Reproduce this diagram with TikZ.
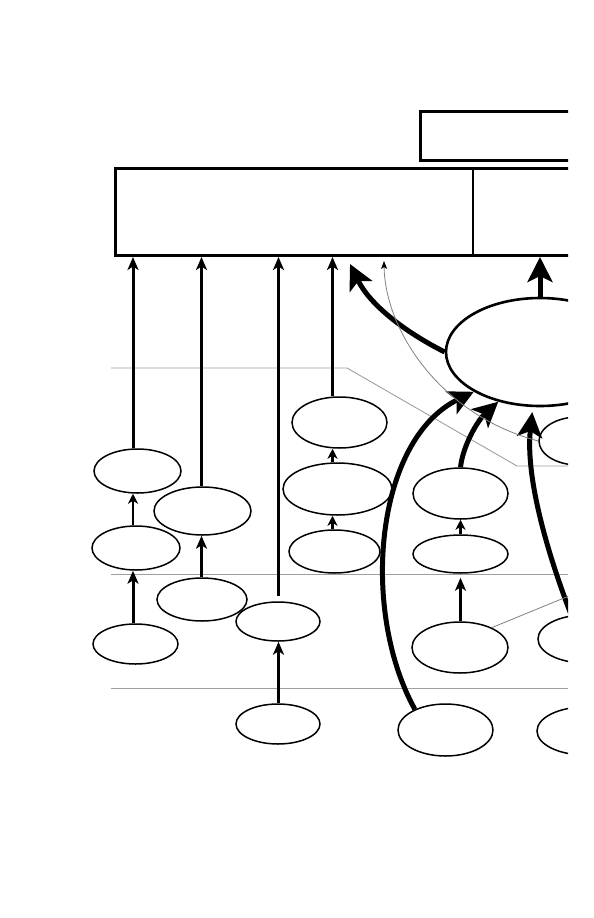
\documentclass[tikz,border=0pt]{standalone}
\usetikzlibrary{shapes.geometric,arrows.meta}
\begin{document}
\begin{tikzpicture}[x=1pt,y=-1pt,
  el/.style={ellipse,draw,line width=1.5pt,inner sep=0pt},
  boxnode/.style={rectangle,draw,line width=3pt,inner sep=0pt,anchor=north west},
  thinarr/.style={line width=3pt,-{Stealth[length=13pt,width=11pt,inset=3.5pt]}},
  smallarr/.style={line width=2.8pt,-{Stealth[length=10pt,width=10pt,inset=3pt]}},
  bigarr/.style={line width=5pt,-{Stealth[length=25pt,width=25pt,inset=6pt]}},
  grayarr/.style={draw=gray,line width=0.8pt,-{Stealth[length=8pt,width=6pt,inset=2pt,color=black]}},
  guide/.style={draw=gray!75,line width=0.9pt}]
\useasboundingbox (0,0) rectangle (594,918);
\begin{scope}
\clip (0,0) rectangle (568,918);
% guide lines
\coordinate (g1a) at (111,368);
\coordinate (g1b) at (347,368);
\coordinate (g1c) at (517,466);
\coordinate (g1d) at (620,466);
\draw[guide] (g1a) -- (g1b) -- (g1c) -- (g1d);
\coordinate (g2a) at (111,574);
\coordinate (g2b) at (620,574);
\draw[guide] (g2a) -- (g2b);
\coordinate (g3a) at (111,688);
\coordinate (g3b) at (620,688);
\draw[guide] (g3a) -- (g3b);

% boxes
\node[boxnode,minimum width=240pt,minimum height=49pt] (top) at (419,110) {};
\node[boxnode,minimum width=526pt,minimum height=87pt] (main) at (114,167) {};
\coordinate (d1) at (472.5,167);
\draw[line width=2pt] (d1) -- (d1 |- main.south);

% ellipses
\node[el,minimum width=87pt,minimum height=44pt] (E1) at (137.5,471) {};
\node[el,minimum width=88pt,minimum height=44pt] (E2) at (136,548) {};
\node[el,minimum width=85pt,minimum height=40pt] (E3) at (135.5,644) {};
\node[el,minimum width=97pt,minimum height=48pt] (E4) at (202.5,511) {};
\node[el,minimum width=90pt,minimum height=43pt] (E5) at (202,599.5) {};
\node[el,minimum width=84pt,minimum height=39pt] (E6) at (278,621.5) {};
\node[el,minimum width=84pt,minimum height=40pt] (E7) at (278,724) {};
\node[el,minimum width=95pt,minimum height=51pt] (E8) at (339.5,422.5) {};
\node[el,minimum width=109pt,minimum height=52pt] (E9) at (337.5,489) {};
\node[el,minimum width=91pt,minimum height=43pt] (E10) at (334.5,551.5) {};
\node[el,minimum width=95pt,minimum height=52pt] (E11) at (445.5,730) {};
\node[el,minimum width=95pt,minimum height=51pt] (E12) at (460.5,493.5) {};
\node[el,minimum width=96pt,minimum height=51pt] (E13) at (460,647.5) {};
\node[el,minimum width=95pt,minimum height=38pt] (E14) at (460.5,554) {};
\node[el,line width=2.6pt,minimum width=188pt,minimum height=108pt] (BE) at (540,352) {};
\node[el,minimum width=78pt,minimum height=48pt] (ERs) at (578,441) {};
\node[el,minimum width=94pt,minimum height=48pt] (ERm) at (585,639) {};
\node[el,minimum width=96pt,minimum height=48pt] (ERb) at (585,731) {};

% column x positions
\coordinate (c1) at (133,0);
\coordinate (c2) at (201.5,0);
\coordinate (c3) at (278.5,0);
\coordinate (c4) at (332.5,0);
\coordinate (c5) at (460.5,0);

% column 1
\draw[thinarr] (E3.north -| c1) -- (E2.south -| c1);
\draw[smallarr] (E2.north -| c1) -- (E1.south -| c1);
\draw[thinarr] (E1.north -| c1) -- (main.south -| c1);
% column 2
\draw[thinarr] (E5.north -| c2) -- (E4.south -| c2);
\draw[thinarr] (E4.north -| c2) -- (main.south -| c2);
% column 3
\draw[thinarr] (E7.north -| c3) -- (E6.south -| c3);
\draw[thinarr] ([yshift=5pt]E6.north -| c3) -- (main.south -| c3);
% column 4
\draw[smallarr] (E10.north -| c4) -- (E9.south -| c4);
\draw[smallarr] (E9.north -| c4) -- (E8.south -| c4);
\draw[thinarr] (E8.north -| c4) -- (main.south -| c4);
% column 5
\draw[thinarr] (E13.north -| c5) -- ([yshift=-4pt]E14.south -| c5);
\draw[smallarr] (E14.north -| c5) -- (E12.south -| c5);

% big arrows
\coordinate (tA) at (350,264);
\draw[bigarr] (BE.west) .. controls (405,332) and (370,305) .. (tA);
\draw[bigarr] (BE.north) -- (BE.north |- main.south);
\draw[bigarr] (E11.146) .. controls (360,610) and (375,440) .. (BE.211);
\draw[bigarr] (E12.north) .. controls (463,445) and (478,420) .. (BE.230);
\draw[bigarr] (ERm.120) .. controls (550,560) and (525,480) .. ([yshift=-5pt]BE.262);

% thin gray arrow
\coordinate (tG) at (384,261);
\draw[grayarr] (ERs.west) .. controls (440,415) and (385,330) .. (tG);

% thin gray line from E13
\coordinate (gE) at (620,575);
\draw[draw=gray,line width=0.8pt] (E13.32) -- (gE);
\end{scope}
\end{tikzpicture}
\end{document}
